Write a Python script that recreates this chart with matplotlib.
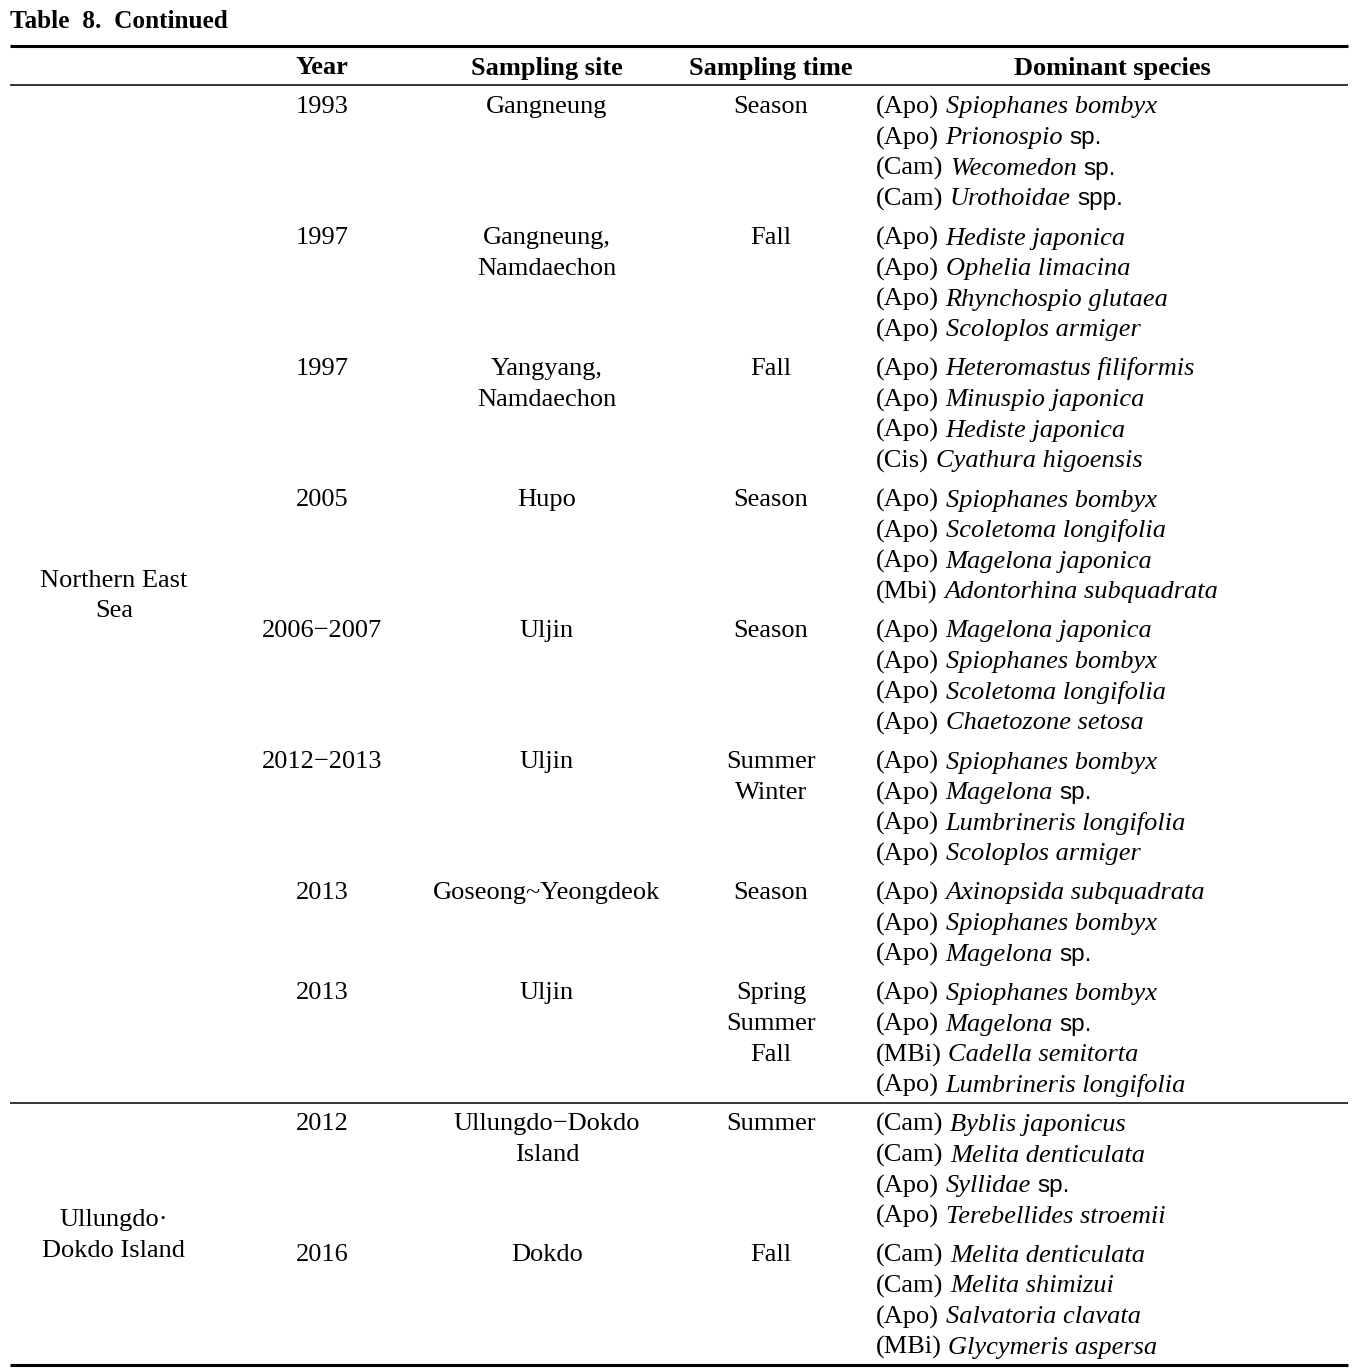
import matplotlib
matplotlib.use("Agg")
import matplotlib.pyplot as plt

# Table content
title = "Table  8.  Continued"
headers = ["Year", "Sampling site", "Sampling time", "Dominant species"]

regions = ["Northern East\nSea", "Ullungdo·\nDokdo Island"]
region_rows = [8, 2]   # number of records in each region

years = ["1993", "1997", "1997", "2005", "2006\u22122007", "2012\u22122013",
         "2013", "2013", "2012", "2016"]
sites = ["Gangneung", "Gangneung,\nNamdaechon", "Yangyang,\nNamdaechon", "Hupo",
         "Uljin", "Uljin", "Goseong~Yeongdeok", "Uljin",
         "Ullungdo\u2212Dokdo\nIsland", "Dokdo"]
times = ["Season", "Fall", "Fall", "Season", "Season", "Summer\nWinter",
         "Season", "Spring\nSummer\nFall", "Summer", "Fall"]

# each species entry: (group, genus/species in italics, suffix)
species = [
    [("Apo", "Spiophanes bombyx", ""), ("Apo", "Prionospio", "sp."),
     ("Cam", "Wecomedon", "sp."), ("Cam", "Urothoidae", "spp.")],
    [("Apo", "Hediste japonica", ""), ("Apo", "Ophelia limacina", ""),
     ("Apo", "Rhynchospio glutaea", ""), ("Apo", "Scoloplos armiger", "")],
    [("Apo", "Heteromastus filiformis", ""), ("Apo", "Minuspio japonica", ""),
     ("Apo", "Hediste japonica", ""), ("Cis", "Cyathura higoensis", "")],
    [("Apo", "Spiophanes bombyx", ""), ("Apo", "Scoletoma longifolia", ""),
     ("Apo", "Magelona japonica", ""), ("Mbi", "Adontorhina subquadrata", "")],
    [("Apo", "Magelona japonica", ""), ("Apo", "Spiophanes bombyx", ""),
     ("Apo", "Scoletoma longifolia", ""), ("Apo", "Chaetozone setosa", "")],
    [("Apo", "Spiophanes bombyx", ""), ("Apo", "Magelona", "sp."),
     ("Apo", "Lumbrineris longifolia", ""), ("Apo", "Scoloplos armiger", "")],
    [("Apo", "Axinopsida subquadrata", ""), ("Apo", "Spiophanes bombyx", ""),
     ("Apo", "Magelona", "sp.")],
    [("Apo", "Spiophanes bombyx", ""), ("Apo", "Magelona", "sp."),
     ("MBi", "Cadella semitorta", ""), ("Apo", "Lumbrineris longifolia", "")],
    [("Cam", "Byblis japonicus", ""), ("Cam", "Melita denticulata", ""),
     ("Apo", "Syllidae", "sp."), ("Apo", "Terebellides stroemii", "")],
    [("Cam", "Melita denticulata", ""), ("Cam", "Melita shimizui", ""),
     ("Apo", "Salvatoria clavata", ""), ("MBi", "Glycymeris aspersa", "")],
]

W, H = 1368, 1369
fig = plt.figure(figsize=(W / 100, H / 100), dpi=100)
ax = fig.add_axes([0, 0, 1, 1])
ax.set_xlim(0, W)
ax.set_ylim(H, 0)
ax.axis("off")

serif = "Liberation Serif"
sans = "Liberation Sans"
fs = 19
lh = 30.65      # line height (px)
gap = 8.4       # extra space between records
dy = 2          # nudge of text centres

col_x = [322, 547, 771]
sp_x = 876
reg_x = 114

ax.text(10, 21, title, fontsize=18.2, fontweight="bold", family=serif,
        ha="left", va="center")

# rules
ax.plot([10, 1348], [46, 46], color="black", lw=2.2, solid_capstyle="butt")
ax.plot([10, 1348], [85, 85], color="black", lw=1.1, solid_capstyle="butt")
ax.plot([10, 1348], [1365, 1365], color="black", lw=2.2, solid_capstyle="butt")

for x, h in zip(col_x, headers[:3]):
    ax.text(x, 66 + dy, h, fontsize=fs, fontweight="bold", family=serif,
            ha="center", va="center")
ax.text(1112, 66 + dy, headers[3], fontsize=fs, fontweight="bold", family=serif,
        ha="center", va="center")

fig.canvas.draw()
renderer = fig.canvas.get_renderer()


def width_of(s, **kw):
    t = ax.text(0, 0, s, fontsize=fs, **kw)
    w = t.get_window_extent(renderer).width
    t.remove()
    return w


space_w = width_of("a a", family=serif) - width_of("aa", family=serif)

y = 105
starts = []
for i in range(len(years)):
    starts.append(y)
    ax.text(col_x[0], y + dy, years[i], fontsize=fs, family=serif,
            ha="center", va="center")
    for k, line in enumerate(sites[i].split("\n")):
        ax.text(col_x[1], y + k * lh + dy, line, fontsize=fs, family=serif,
                ha="center", va="center")
    for k, line in enumerate(times[i].split("\n")):
        ax.text(col_x[2], y + k * lh + dy, line, fontsize=fs, family=serif,
                ha="center", va="center")
    for k, (grp, name, suf) in enumerate(species[i]):
        yy = y + k * lh + 8.5
        x = sp_x
        pre = "(" + grp + ")"
        ax.text(x, yy, pre, fontsize=fs, family=serif, ha="left", va="baseline")
        x += width_of(pre, family=serif) + space_w
        ax.text(x, yy, name, fontsize=fs, family=serif, style="italic",
                ha="left", va="baseline")
        if suf:
            x += width_of(name, family=serif, style="italic") + space_w
            ax.text(x, yy, suf, fontsize=fs - 1.5, family=sans,
                    ha="left", va="baseline")
    y += len(species[i]) * lh + gap

# region labels and separator
first = 0
for r, (name, n) in enumerate(zip(regions, region_rows)):
    last = first + n - 1
    top = starts[first]
    bottom = starts[last] + (len(species[last]) - 1) * lh
    mid = (top + bottom) / 2
    lines = name.split("\n")
    for k, line in enumerate(lines):
        ax.text(reg_x, mid + (k - (len(lines) - 1) / 2) * lh + dy, line,
                fontsize=fs, family=serif, ha="center", va="center")
    if r < len(regions) - 1:
        sep = bottom + lh / 2 + 4
        ax.plot([10, 1348], [sep, sep], color="black", lw=1.1,
                solid_capstyle="butt")
    first += n

fig.savefig("out.png", dpi=100)
